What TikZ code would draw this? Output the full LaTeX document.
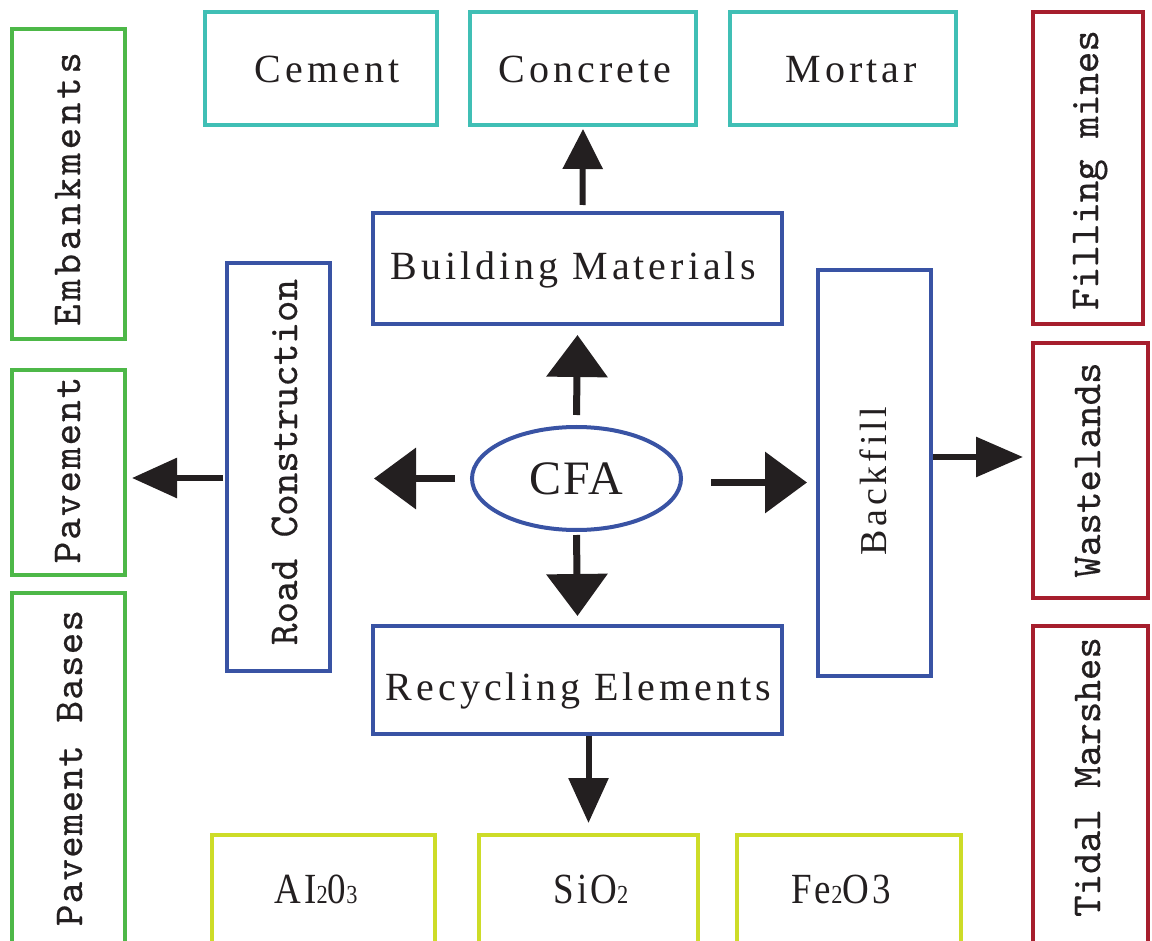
\documentclass[tikz,border=0pt]{standalone}
\usepackage{fontspec}
\setmainfont{Liberation Serif}
\newfontfamily\hfont{Liberation Serif}[LetterSpace=10]
\newfontfamily\cfont{Liberation Serif}[LetterSpace=4]
\newfontfamily\ffont{Liberation Serif}[LetterSpace=7,FakeStretch=0.86]
\newfontfamily\vfont{lmmono10-regular.otf}[FakeBold=0.4]
\newfontfamily\vfontw{lmmono10-regular.otf}[LetterSpace=9,FakeBold=0.4]
\newfontfamily\vfontm{lmmono10-regular.otf}[LetterSpace=5,FakeBold=0.4]
\newfontfamily\vfontn{lmmono10-regular.otf}[LetterSpace=3,FakeBold=0.4]
\usetikzlibrary{arrows.meta,shapes.geometric}
\definecolor{cgreen}{RGB}{77,184,72}
\definecolor{cteal}{RGB}{64,191,181}
\definecolor{cred}{RGB}{166,30,45}
\definecolor{cblue}{RGB}{57,83,164}
\definecolor{clime}{RGB}{205,220,40}
\definecolor{cblack}{RGB}{35,31,32}
\newcommand{\smd}[1]{{\fontsize{26}{26}\selectfont #1}}
\tikzset{
  box/.style={draw=#1, line width=4pt, rectangle, inner sep=0pt},
  htext/.style={inner sep=0pt, anchor=base, text=cblack, font=\hfont\fontsize{40}{40}\selectfont},
  ftext/.style={inner sep=0pt, anchor=base, text=cblack, font=\ffont\fontsize{43}{43}\selectfont},
  vtext/.style={inner sep=0pt, anchor=base, rotate=90, text=cblack, font=\vfont\fontsize{41}{41}\selectfont},
  arrC/.style={draw=cblack, line width=7pt, -{Triangle[length=42pt,width=60pt]}},
  arrS/.style={draw=cblack, line width=6pt, -{Triangle[length=#1pt,width=39pt]}},
}
\begin{document}
\begin{tikzpicture}[x=1pt,y=-1pt]
\useasboundingbox (0,0) rectangle (1152,941);
\clip (0,0) rectangle (1152,941);
% left green
\node[box=cgreen, minimum width=113pt, minimum height=310pt] (emb) at (68.5,184) {};
\node[box=cgreen, minimum width=113pt, minimum height=205pt] (pav) at (68.5,472.5) {};
\node[box=cgreen, minimum width=113pt, minimum height=400pt] (pbs) at (68.5,793) {};
% top teal
\node[box=cteal, minimum width=232pt, minimum height=113pt] (cem) at (321,68.5) {};
\node[box=cteal, minimum width=226pt, minimum height=113pt] (con) at (583,68.5) {};
\node[box=cteal, minimum width=226pt, minimum height=113pt] (mor) at (843,68.5) {};
% right red
\node[box=cred, minimum width=110pt, minimum height=312pt] (fil) at (1088,168) {};
\node[box=cred, minimum width=115pt, minimum height=255pt] (wst) at (1090.5,470.5) {};
\node[box=cred, minimum width=115pt, minimum height=400pt] (tid) at (1090.5,826) {};
% blue
\node[box=cblue, minimum width=409pt, minimum height=111pt] (bm) at (577.5,268.5) {};
\node[box=cblue, minimum width=103pt, minimum height=408pt] (rc) at (278.5,467) {};
\node[box=cblue, minimum width=113pt, minimum height=406pt] (bf) at (874.5,473) {};
\node[box=cblue, minimum width=409pt, minimum height=108pt] (re) at (577.5,680) {};
\node[draw=cblue, line width=4pt, ellipse, minimum width=209pt, minimum height=103pt, inner sep=0pt, text=cblack, font=\cfont\fontsize{48}{48}\selectfont] (cfa) at (576.5,478.5) {CFA};
% bottom lime
\node[box=clime, minimum width=223pt, minimum height=200pt] (alo) at (323.5,935) {};
\node[box=clime, minimum width=219pt, minimum height=200pt] (sio) at (588.5,935) {};
\node[box=clime, minimum width=224pt, minimum height=200pt] (feo) at (849,935) {};
% texts
\node[vtext, font=\vfontw\fontsize{41}{41}\selectfont] (embt) at (80,189) {Embankments};
\node[vtext, font=\vfontm\fontsize{41}{41}\selectfont] (pavt) at (80,470) {Pavement};
\node[vtext, font=\vfontn\fontsize{41}{41}\selectfont] (pbst) at (82,768) {Pavement Bases};
\node[vtext] (rct) at (297,462) {Road Construction};
\node[vtext, font=\hfont\fontsize{38}{38}\selectfont] (bft) at (886,481) {Backfill};
\node[vtext] (filt) at (1098,170) {Filling mines};
\node[vtext] (wstt) at (1100,470) {Wastelands};
\node[vtext] (tidt) at (1100,777) {Tidal Marshes};
\node[htext] (cemt) at (327,83) {Cement};
\node[htext] (cont) at (585,83) {Concrete};
\node[htext] (mort) at (851,83) {Mortar};
\node[htext] (bmt) at (573,280) {Building Materials};
\node[htext] (ret) at (578.5,700) {Recycling Elements};
\node[ftext] (alot) at (316,903) {AI\smd{2}0\smd{3}};
\node[ftext] (siot) at (591,903) {SiO\smd{2}};
\node[ftext] (feot) at (841,903) {Fe\smd{2}O3};
% arrows from CFA
\draw[arrC] ([yshift=10pt]cfa.north) -- ([yshift=-9pt]bm.south);
\draw[arrC] ([yshift=-3pt]cfa.south) -- ([yshift=8pt]re.north);
\coordinate (lc) at ([xshift=-15pt]cfa.west);
\draw[arrC, shorten >=42pt] (lc) -- (lc -| rc.east);
\coordinate (rcf) at ([xshift=28pt,yshift=-4pt]cfa.east);
\draw[arrC, shorten >=9pt] (rcf) -- (rcf -| bf.west);
% secondary arrows
\draw[arrS=40] ([xshift=5pt,yshift=6pt]bm.north) -- ([yshift=-2pt]con.south);
\coordinate (rcl) at ([xshift=-2pt,yshift=-11pt]rc.west);
\draw[arrS=45, shorten >=5pt] (rcl) -- (rcl -| pav.east);
\coordinate (bfr) at ([yshift=16pt]bf.east);
\draw[arrS=47, shorten >=8pt] (bfr) -- (bfr -| wst.west);
\coordinate (res) at (re.south -| sio.north);
\draw[arrS=45, shorten >=10pt] (res) -- (sio.north);
\end{tikzpicture}
\end{document}
